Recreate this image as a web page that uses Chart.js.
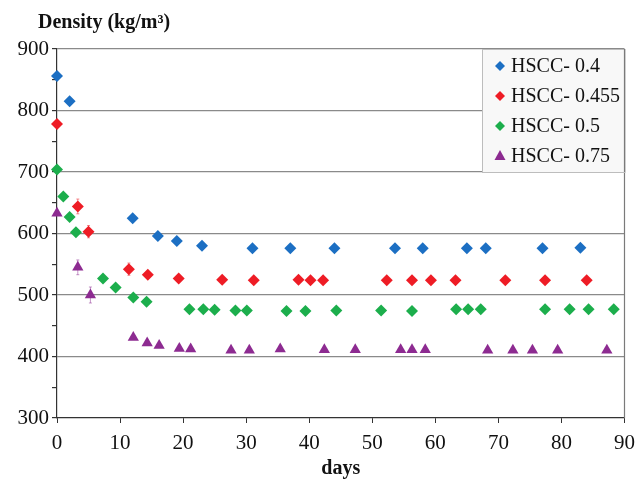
<!DOCTYPE html>
<html>
<head>
<meta charset="utf-8">
<script src="https://cdn.jsdelivr.net/npm/chart.js@4/dist/chart.umd.min.js"></script>
<style>
    html, body { margin: 0; padding: 0; background: #fff; }
    #wrap { width: 643px; height: 479px; }
</style>
</head>
<body>
<div id="wrap"><canvas id="chart" width="643" height="479"></canvas></div>
<script>
// series
const seriesNames = ["HSCC- 0.4", "HSCC- 0.455", "HSCC- 0.5", "HSCC- 0.75"];
const seriesColors = ["#1c6fc3", "#ee1c25", "#1cae4c", "#8d2b91"];

const days04 = [0, 2, 12, 16, 19, 23, 31, 37, 44, 53.6, 58, 65, 68, 77, 83];
const dens04 = [856, 815, 625, 596, 588, 580, 576, 576, 576, 576, 576, 576, 576, 576, 577];

const days0455 = [0, 3.3, 5, 11.4, 14.4, 19.3, 26.2, 31.2, 38.3, 40.2, 42.2, 52.3, 56.3, 59.3, 63.2, 71.1, 77.4, 84];
const dens0455 = [778, 644, 603, 542, 533, 527, 525, 524, 525, 524, 524, 524, 524, 524, 524, 524, 524, 524];

const days05 = [0, 1, 2, 3, 7.3, 9.3, 12.1, 14.2, 21, 23.2, 25, 28.3, 30.1, 36.4, 39.4, 44.3, 51.4, 56.3, 63.3, 65.2, 67.2, 77.4, 81.3, 84.3, 88.3];
const dens05 = [704, 660, 627, 602, 527, 512, 496, 489, 477, 477, 476, 475, 475, 474, 474, 475, 475, 474, 477, 477, 477, 477, 477, 477, 477];

const days075 = [0, 3.3, 5.3, 12.1, 14.3, 16.2, 19.4, 21.2, 27.6, 30.5, 35.4, 42.4, 47.3, 54.5, 56.3, 58.4, 68.3, 72.3, 75.4, 79.4, 87.2];
const dens075 = [633, 545, 500, 431, 422, 418, 413, 412, 410, 410, 412, 411, 411, 411, 411, 411, 410, 410, 410, 410, 410];

// error bars: [point index, +/- value]
const err04 = [[0, 6]];
const err0455 = [[2, 10], [1, 12], [3, 10]];
const err05 = [];
const err075 = [[1, 12], [2, 13]];

const yTicks = [300, 400, 500, 600, 700, 800, 900];
const xTicks = [0, 10, 20, 30, 40, 50, 60, 70, 80, 90];

const serif = "'Liberation Serif', 'Times New Roman', serif";

function toPoints(xs, ys) {
    return xs.map((x, i) => ({ x: x, y: ys[i] }));
}

const allDays = [days04, days0455, days05, days075];
const allDens = [dens04, dens0455, dens05, dens075];
const allErr = [err04, err0455, err05, err075];
const markers = ["rectRot", "rectRot", "rectRot", "triangle"];

const datasets = seriesNames.map((name, i) => ({
    label: name,
    data: toPoints(allDays[i], allDens[i]),
    backgroundColor: seriesColors[i],
    borderColor: seriesColors[i],
    borderWidth: 0,
    pointStyle: markers[i],
    pointRadius: markers[i] === "triangle" ? 6.5 : 6,
    clip: false,
    errors: allErr[i]
}));

// extra drawing: right frame, error bars, legend box, axis titles
const decor = {
    id: "decor",
    beforeDatasetsDraw(chart) {
        const { ctx, chartArea: a, scales } = chart;
        ctx.save();
        ctx.strokeStyle = "#7a7a7a";
        ctx.lineWidth = 1.2;
        ctx.beginPath();
        ctx.moveTo(a.right, a.top);
        ctx.lineTo(a.right, a.bottom);
        ctx.stroke();

        chart.data.datasets.forEach(ds => {
            ctx.strokeStyle = ds.borderColor;
            ctx.globalAlpha = 0.5;
            ctx.lineWidth = 1;
            ds.errors.forEach(([idx, e]) => {
                const p = ds.data[idx];
                const x = scales.x.getPixelForValue(p.x);
                const y1 = scales.y.getPixelForValue(p.y - e);
                const y2 = scales.y.getPixelForValue(p.y + e);
                ctx.beginPath();
                ctx.moveTo(x, y1); ctx.lineTo(x, y2);
                ctx.moveTo(x - 1.5, y1); ctx.lineTo(x + 1.5, y1);
                ctx.moveTo(x - 1.5, y2); ctx.lineTo(x + 1.5, y2);
                ctx.stroke();
            });
        });
        ctx.restore();
    },
    afterDraw(chart) {
        const { ctx, chartArea: a } = chart;
        ctx.save();

        // legend
        const lx = 482, lw = a.right - lx, lh = chart.scales.y.getPixelForValue(700) - a.top;
        ctx.fillStyle = "#f8f8f8";
        ctx.fillRect(lx, a.top, lw, lh);
        ctx.strokeStyle = "#bdbdbd";
        ctx.lineWidth = 1;
        ctx.strokeRect(lx + 0.5, a.top + 0.5, lw, lh);
        ctx.strokeStyle = "#7a7a7a";
        ctx.lineWidth = 1.2;
        ctx.beginPath();
        ctx.moveTo(a.right, a.top); ctx.lineTo(a.right, a.top + lh);
        ctx.stroke();

        ctx.font = "20px " + serif;
        ctx.textBaseline = "middle";
        ctx.textAlign = "left";
        chart.data.datasets.forEach((ds, i) => {
            const cy = a.top + 17 + i * 30;
            const cx = lx + 18;
            ctx.fillStyle = ds.backgroundColor;
            ctx.beginPath();
            if (ds.pointStyle === "triangle") {
                ctx.moveTo(cx, cy - 6);
                ctx.lineTo(cx + 5.5, cy + 4);
                ctx.lineTo(cx - 5.5, cy + 4);
            } else {
                ctx.moveTo(cx, cy - 5);
                ctx.lineTo(cx + 5, cy);
                ctx.lineTo(cx, cy + 5);
                ctx.lineTo(cx - 5, cy);
            }
            ctx.closePath();
            ctx.fill();
            ctx.fillStyle = "#111";
            ctx.fillText(ds.label, lx + 29, cy + 1);
        });

        // titles
        ctx.fillStyle = "#111";
        ctx.font = "bold 20px " + serif;
        ctx.textAlign = "left";
        ctx.textBaseline = "alphabetic";
        ctx.fillText("Density (kg/m³)", 38, 28);
        ctx.textAlign = "center";
        ctx.fillText("days", (a.left + a.right) / 2, 474);
        ctx.restore();
    }
};

new Chart(document.getElementById("chart"), {
    type: "scatter",
    data: { datasets: datasets },
    options: {
        responsive: false,
        animation: false,
        layout: { padding: { top: 49, right: 10, left: 0, bottom: 0 } },
        plugins: {
            legend: { display: false },
            tooltip: { enabled: false }
        },
        scales: {
            x: {
                type: "linear",
                min: 0,
                max: 90,
                afterFit: s => { s.height = 61; },
                afterBuildTicks: s => { s.ticks = xTicks.map(v => ({ value: v })); },
                ticks: {
                    color: "#111",
                    font: { family: serif, size: 21 },
                    padding: 8,
                    maxRotation: 0
                },
                grid: { drawOnChartArea: false, drawTicks: true, tickLength: 5, tickColor: "#333" },
                border: { color: "#333", width: 1.2 }
            },
            y: {
                min: 300,
                max: 900,
                afterFit: s => { s.width = 57; },
                ticks: {
                    stepSize: 50,
                    autoSkip: false,
                    color: "#111",
                    font: { family: serif, size: 21 },
                    padding: 3,
                    callback: v => yTicks.includes(v) ? v : ""
                },
                grid: {
                    color: c => (c.tick && c.tick.value % 100 === 0 && c.tick.value > 300) ? "#8a8a8a" : "rgba(0,0,0,0)",
                    lineWidth: 1.2,
                    drawTicks: true,
                    tickLength: 5,
                    tickColor: "#333"
                },
                border: { color: "#333", width: 1.2 }
            }
        }
    },
    plugins: [decor]
});
</script>
</body>
</html>
